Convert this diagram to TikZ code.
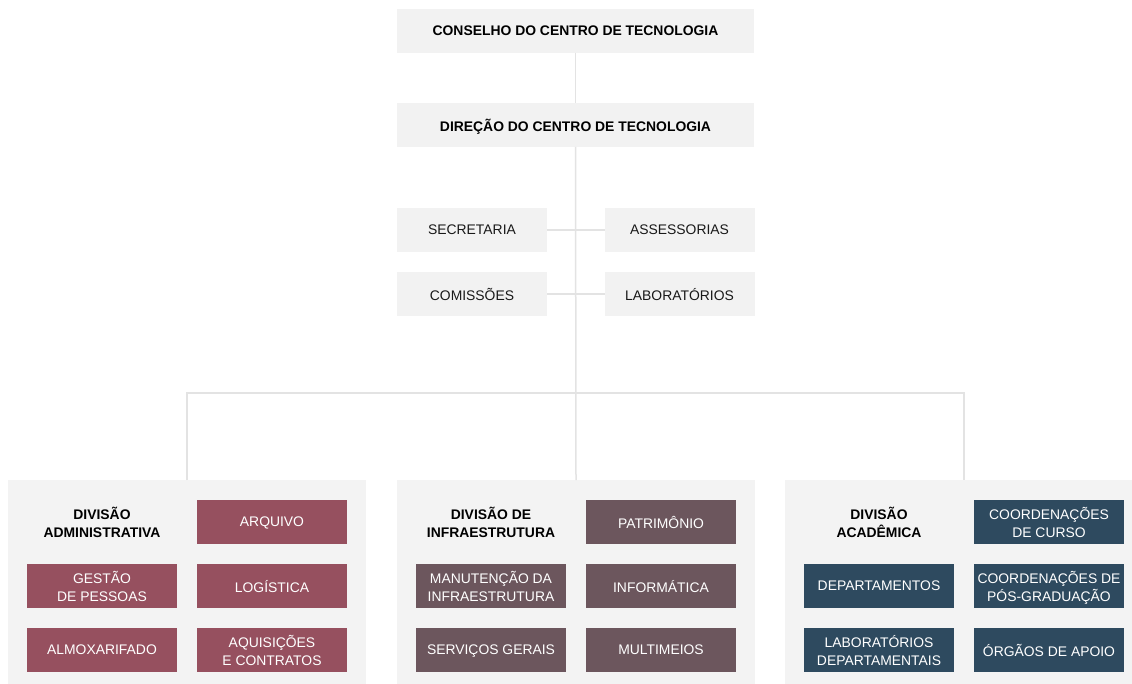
\documentclass[tikz,border=0pt]{standalone}
\usepackage{fontspec}
\setmainfont{Liberation Sans}
\usetikzlibrary{positioning}

\definecolor{boxgray}{HTML}{F2F2F2}
\definecolor{panelgray}{HTML}{F3F3F3}
\definecolor{linegray}{HTML}{E3E3E3}
\definecolor{admred}{HTML}{96505F}
\definecolor{infrabrown}{HTML}{6C565D}
\definecolor{acadblue}{HTML}{2E4A5F}

\begin{document}
\begin{tikzpicture}[x=1pt,y=-1pt,node distance=20pt,
        line width=1.5pt,draw=linegray,
        top node/.style={rectangle,fill=boxgray,minimum width=357pt,minimum height=44pt,inner sep=0pt,outer sep=0pt,
            text depth=0pt,font=\fontsize{13.9}{18}\selectfont\bfseries,text=black},
        side node/.style={rectangle,fill=boxgray,minimum width=150pt,minimum height=44pt,inner sep=0pt,outer sep=0pt,
            text depth=0pt,font=\fontsize{13.9}{18}\selectfont,text=black!90},
        panel/.style={rectangle,fill=panelgray,minimum width=358pt,minimum height=204pt,inner sep=0pt,outer sep=0pt},
        title node/.style={rectangle,minimum width=150pt,minimum height=44pt,inner sep=0pt,outer sep=0pt,align=center,
            text depth=0pt,font=\fontsize{13.9}{18}\selectfont\bfseries,text=black},
        unit node/.style={rectangle,minimum width=150pt,minimum height=44pt,inner sep=0pt,outer sep=0pt,align=center,
            text depth=0pt,font=\fontsize{13.9}{18}\selectfont,text=white}]

        \useasboundingbox (0,0) rectangle (1132,684);

        \node[top node] (conselho) at (575.5,31) {CONSELHO DO CENTRO DE TECNOLOGIA};
        \node[top node] (direcao) at (575.5,125) {DIREÇÃO DO CENTRO DE TECNOLOGIA};

        \node[side node] (secretaria) at (472,230) {SECRETARIA};
        \node[side node] (assessorias) at (679.5,230) {ASSESSORIAS};
        \node[side node] (comissoes) at (472,294) {COMISSÕES};
        \node[side node] (laboratorios) at (679.5,294) {LABORATÓRIOS};

        \node[panel] (adm) at (187,582) {};
        \node[panel] (infra) at (576,582) {};
        \node[panel] (acad) at (964,582) {};

        % divisao administrativa
        \node[unit node,fill=admred] (arquivo) at (272,522) {ARQUIVO};
        \node[unit node,fill=admred] (logistica) [below=of arquivo] {LOGÍSTICA};
        \node[unit node,fill=admred] (aquisicoes) [below=of logistica] {AQUISIÇÕES\\E CONTRATOS};
        \node[unit node,fill=admred] (gestao) [left=of logistica] {GESTÃO\\DE PESSOAS};
        \node[unit node,fill=admred] (almox) [below=of gestao] {ALMOXARIFADO};
        \node[title node] (admtit) [above=of gestao] {DIVISÃO\\ADMINISTRATIVA};

        % divisao de infraestrutura
        \node[unit node,fill=infrabrown] (patrimonio) at (661,522) {PATRIMÔNIO};
        \node[unit node,fill=infrabrown] (informatica) [below=of patrimonio] {INFORMÁTICA};
        \node[unit node,fill=infrabrown] (multimeios) [below=of informatica] {MULTIMEIOS};
        \node[unit node,fill=infrabrown] (manutencao) [left=of informatica] {MANUTENÇÃO DA\\INFRAESTRUTURA};
        \node[unit node,fill=infrabrown] (servicos) [below=of manutencao] {SERVIÇOS GERAIS};
        \node[title node] (infratit) [above=of manutencao] {DIVISÃO DE\\INFRAESTRUTURA};

        % divisao academica
        \node[unit node,fill=acadblue] (cursos) at (1049,522) {COORDENAÇÕES\\DE CURSO};
        \node[unit node,fill=acadblue] (posgrad) [below=of cursos] {COORDENAÇÕES DE\\PÓS-GRADUAÇÃO};
        \node[unit node,fill=acadblue] (apoio) [below=of posgrad] {ÓRGÃOS DE APOIO};
        \node[unit node,fill=acadblue] (deptos) [left=of posgrad] {DEPARTAMENTOS};
        \node[unit node,fill=acadblue] (labdeptos) [below=of deptos] {LABORATÓRIOS\\DEPARTAMENTAIS};
        \node[title node] (acadtit) [above=of deptos] {DIVISÃO\\ACADÊMICA};

        \coordinate (bar) at (576,393);

        \path[draw=linegray]
        (conselho) edge (direcao)
        (direcao) edge (infra.north)
        (secretaria) edge (assessorias)
        (comissoes) edge (laboratorios);
        \draw[linegray] (adm) |- (bar) -| (acad);
      \end{tikzpicture}
\end{document}
